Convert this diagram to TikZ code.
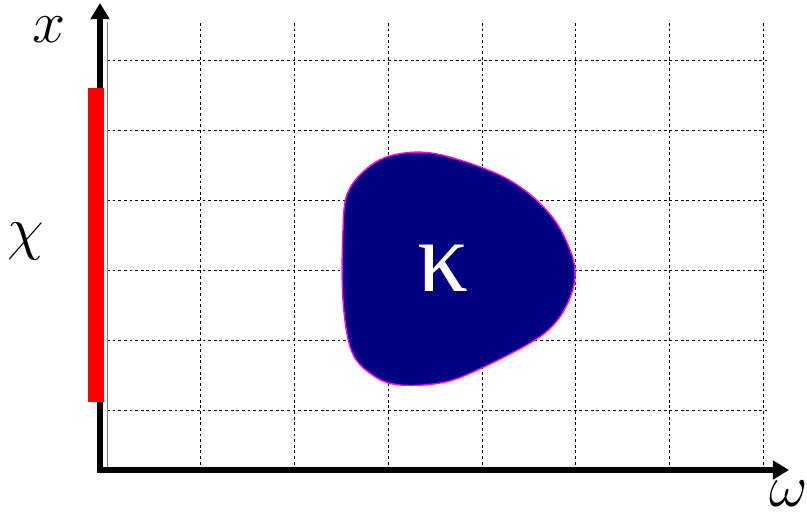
\documentclass[tikz,border=0pt]{standalone}
\usepackage{amsmath,amssymb}
\usepackage{graphicx}
\usepackage{fontspec}
\newfontfamily\kappafont{Liberation Serif}
\usetikzlibrary{arrows.meta,calc,backgrounds}
\pgfdeclarelayer{edgelayer}
\pgfdeclarelayer{nodelayer}
\pgfsetlayers{background,edgelayer,nodelayer,main}
\newcommand{\axlab}[1]{\scalebox{1.7}{$#1$}}
\tikzstyle{none}=[inner sep=0mm]
\tikzstyle{gridline}=[black,line width=0.6pt,dash pattern=on 2pt off 2pt]
\tikzstyle{axis}=[line width=4.3pt,line cap=rect,-{Triangle[width=13pt,length=11.5pt]}]
\tikzstyle{support}=[red,line width=11.5pt]
\tikzstyle{blob}=[fill={rgb,255:red,0;green,0;blue,128},draw={rgb,255:red,255;green,0;blue,255},line width=1pt]
\tikzstyle{axislabel}=[inner sep=0mm,font=\Huge]

\begin{document}
\begin{tikzpicture}[x=0.025cm,y=-0.025cm]
	\useasboundingbox (0,0) rectangle (807,514);
	\begin{pgfonlayer}{nodelayer}
		\node [style=none] (o) at (100, 470) {};
		\node [style=none] (xtop) at (100, 3) {};
		\node [style=none] (wend) at (789, 470) {};
		\node [style=none] (chitop) at (96, 88) {};
		\node [style=none] (chibot) at (96, 402) {};
		\node [style=axislabel] (xlab) at (49, 30) {\axlab{x}};
		\node [style=axislabel] (chilab) at (26, 241) {\axlab{\chi}};
		\node [style=axislabel] (wlab) at (789, 494) {\axlab{\omega}};
		\node [style=none, text=white, font=\kappafont\fontsize{72}{72}\selectfont] (k) at (443, 268) {κ};
	\end{pgfonlayer}
	\begin{pgfonlayer}{edgelayer}
		% grid
		\draw [style=gridline] (200, 23) -- (200, 470);
		\draw [style=gridline] (294, 23) -- (294, 470);
		\draw [style=gridline] (388, 23) -- (388, 470);
		\draw [style=gridline] (482, 23) -- (482, 470);
		\draw [style=gridline] (575, 23) -- (575, 470);
		\draw [style=gridline] (669, 23) -- (669, 470);
		\draw [style=gridline] (763, 23) -- (763, 470);
		\draw [style=gridline] (107, 60) -- (767, 60);
		\draw [style=gridline] (107, 130) -- (767, 130);
		\draw [style=gridline] (107, 200) -- (767, 200);
		\draw [style=gridline] (107, 270) -- (767, 270);
		\draw [style=gridline] (107, 340) -- (767, 340);
		\draw [style=gridline] (107, 410) -- (767, 410);
		\draw [gray, line width=0.7pt] (107, 22) -- (107, 468);
		% region
		\draw [style=blob] plot [smooth cycle, tension=0.6] coordinates {
			(398,154) (437,154) (493,172) (527,192) (553,218) (568,245)
			(575,270) (571,295) (556,322) (530,343) (473,372) (440,383)
			(400,385) (374,376) (352,352) (343,300) (343,230) (348,192) (370,166)};
		% axes
		\draw [style=axis] (o.center) to (xtop.center);
		\draw [style=axis] (o.center) to (wend.center);
		\draw [style=support] (chitop.center) to (chibot.center);
	\end{pgfonlayer}
\end{tikzpicture}
\end{document}
